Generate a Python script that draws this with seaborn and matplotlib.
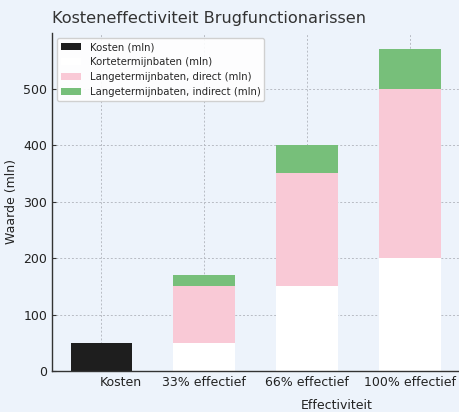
import numpy as np
import pandas as pd
import matplotlib
matplotlib.use("Agg")
import matplotlib.pyplot as plt
import matplotlib.transforms as mtransforms
import seaborn as sns

# Data
categories = ["Kosten", "33% effectief", "66% effectief", "100% effectief"]
kosten = [50, 0, 0, 0]
korte_termijn = [0, 50, 150, 200]
lange_direct = [0, 100, 200, 300]
lange_indirect = [0, 20, 50, 70]

series_names = [
    "Kosten (mln)",
    "Kortetermijnbaten (mln)",
    "Langetermijnbaten, direct (mln)",
    "Langetermijnbaten, indirect (mln)",
]
colors = ["#1e1e1e", "#ffffff", "#f9c9d6", "#77bf7a"]
bg = "#edf3fb"

sns.set_style("ticks")
plt.rcParams["font.family"] = ["DejaVu Sans"]

fig = plt.figure(figsize=(4.59, 4.12), dpi=100, facecolor=bg)
ax = fig.add_axes([0.1133, 0.0995, 0.8867, 0.8205])
ax.set_facecolor(bg)

# stacked totals, drawn top layer first so lower layers cover them
df = pd.DataFrame({
    "cat": categories,
    "kosten": kosten,
    "korte": korte_termijn,
    "direct": lange_direct,
    "indirect": lange_indirect,
})
df["s1"] = df["korte"]
df["s2"] = df["s1"] + df["direct"]
df["s3"] = df["s2"] + df["indirect"]

for col, name, c in [("s3", series_names[3], colors[3]),
                     ("s2", series_names[2], colors[2]),
                     ("s1", series_names[1], colors[1]),
                     ("kosten", series_names[0], colors[0])]:
    sns.barplot(data=df, x="cat", y=col, order=categories, color=c,
                width=0.6, saturation=1, ax=ax, label=name, zorder=2,
                linewidth=0, edgecolor=c)

ax.set_xlim(-0.48, 3.48)
ax.set_ylim(0, 598.5)
ax.set_yticks([0, 100, 200, 300, 400, 500])
ax.grid(True, color="#b8bcc4", linestyle=(0, (2, 2)), linewidth=0.7)
ax.set_axisbelow(True)
for s in ["top", "right"]:
    ax.spines[s].set_visible(False)
for s in ["left", "bottom"]:
    ax.spines[s].set_color("#333333")
    ax.spines[s].set_linewidth(1.0)
ax.tick_params(direction="in", length=3, labelsize=9, colors="#333333",
               labelcolor="#222222")

ax.set_ylabel("Waarde (mln)", fontsize=9, color="#222222")
ax.set_xlabel("Effectiviteit", fontsize=9, color="#222222")
ax.xaxis.set_label_coords(0.70, -0.083)
ax.set_title("Kosteneffectiviteit Brugfunctionarissen", loc="left",
             fontsize=11.6, color="#333333", pad=7)
ax.title.set_x(-0.005)

# first tick label sits a bit to the right in the reference
lbl = ax.get_xticklabels()[0]
lbl.set_transform(lbl.get_transform() +
                  mtransforms.ScaledTranslation(0.19, 0, fig.dpi_scale_trans))

h, l = ax.get_legend_handles_labels()
order = [l.index(n) for n in series_names]
leg = ax.legend([h[i] for i in order], [l[i] for i in order], loc="upper left",
                fontsize=7.3, frameon=True, fancybox=True, borderpad=0.4,
                handlelength=2.0, bbox_to_anchor=(0.0, 1.0))
leg.get_frame().set_facecolor("white")
leg.get_frame().set_edgecolor("#cccccc")
leg.get_frame().set_alpha(0.9)

fig.savefig("out.png", dpi=100, facecolor=bg)
